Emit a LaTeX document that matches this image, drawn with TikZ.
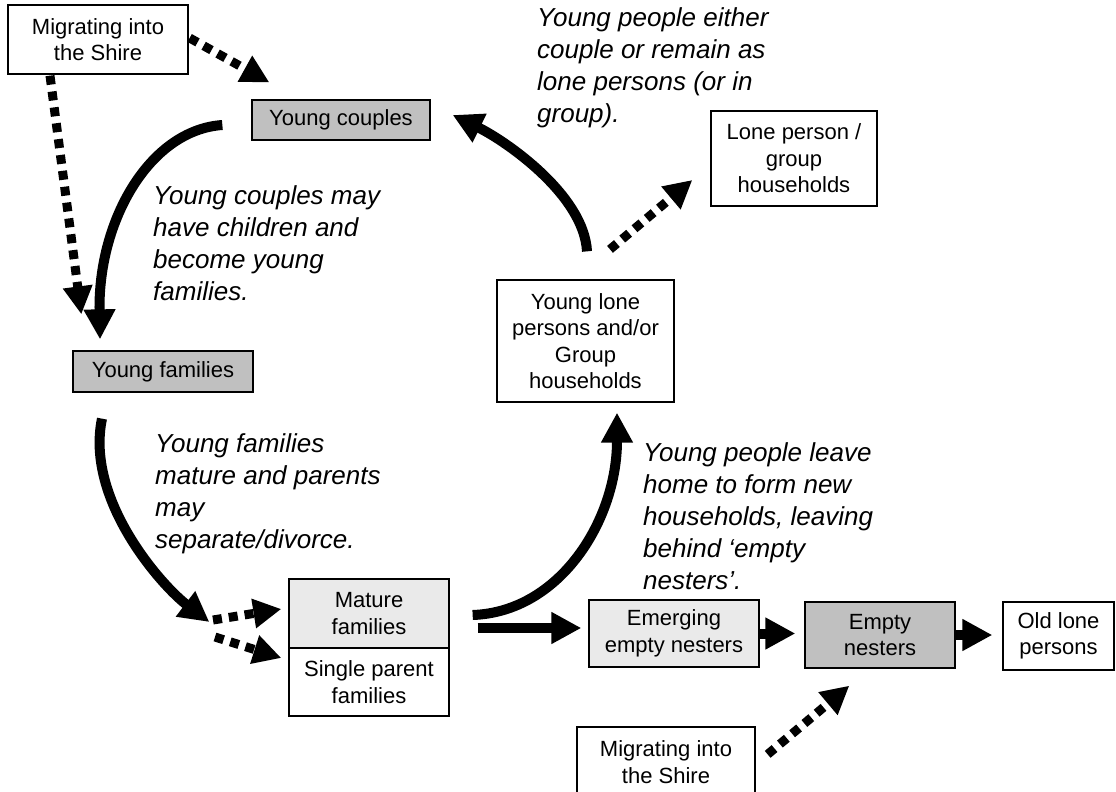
\documentclass[tikz,border=0pt]{standalone}
\usepackage{fontspec}
\setmainfont{Liberation Sans}
\usetikzlibrary{arrows.meta,calc}
\newcommand\boxfont{\fontsize{22}{26.5}\selectfont}
\newcommand\notefont{\fontsize{26}{32}\selectfont\itshape}
\definecolor{boxgray}{HTML}{C0C0C0}
\definecolor{lightgray}{HTML}{EAEAEA}
\tikzset{
  box/.style={draw=black, line width=1.3pt, align=center, font=\boxfont, inner sep=0pt},
  note/.style={align=left, font=\notefont, anchor=north west, inner sep=0pt},
  solidarrow/.style={line width=10pt, -{Triangle[length=30pt,width=30pt]}},
  dotarrow/.style={line width=9pt, dash pattern=on 9pt off 7pt, -{Triangle[length=28pt,width=28pt]}}
}
\begin{document}
\begin{tikzpicture}[x=1pt,y=-1pt]
\useasboundingbox (0,0) rectangle (1116,792);
\fill[white] (0,0) rectangle (1116,792);

% boxes
\node[box, minimum width=180pt, minimum height=69pt] (mig1) at (98,39.5) {Migrating into\\the Shire};
\node[box, fill=boxgray, minimum width=178pt, minimum height=40pt] (yc) at (341,120) {Young couples};
\node[box, fill=boxgray, minimum width=180pt, minimum height=41pt] (yf) at (163,371.5) {Young families};
\node[box, minimum width=166pt, minimum height=95pt] (lone) at (794,158.5) {Lone person /\\group\\households};
\node[box, minimum width=177pt, minimum height=122pt] (ylp) at (585.5,341) {Young lone\\persons and/or\\Group\\households};
\node[box, fill=lightgray, minimum width=160pt, minimum height=69pt] (mat) at (369,613.5) {Mature\\families};
\node[box, minimum width=160pt, minimum height=68pt] (sp) at (369,682) {Single parent\\families};
\node[box, fill=lightgray, minimum width=170pt, minimum height=67pt] (em) at (674,633.5) {Emerging\\empty nesters};
\node[box, fill=boxgray, minimum width=150pt, minimum height=66pt] (empty) at (880,635) {Empty\\nesters};
\node[box, minimum width=111pt, minimum height=68pt] (old) at (1058.5,636) {Old lone\\persons};
\node[box, minimum width=178pt, minimum height=70pt] (mig2) at (666,762) {Migrating into\\the Shire};

% notes
\node[note] (n1) at (153,185) {Young couples may\\have children and\\become young\\families.};
\node[note] (n2) at (155,433) {Young families\\mature and parents\\may\\separate/divorce.};
\node[note] (n3) at (537,7) {Young people either\\couple or remain as\\lone persons (or in\\group).};
\node[note] (n4) at (643,442) {Young people leave\\home to form new\\households, leaving\\behind ‘empty\\nesters’.};

% solid curved arrows
\draw[solidarrow] ($(yc.west)+(-29,5)$) .. controls (150,130) and (98,220) .. ($(yf.north)+(-63,-11)$);
\draw[solidarrow] ($(yf.south)+(-61,26)$) .. controls (85,500) and (162,586) .. ($(mat.west)+(-79,8.5)$);
\draw[solidarrow] ($(mat.east)+(23,1.5)$) .. controls (560,612) and (617,520) .. ($(ylp.south)+(31.5,10)$);
\draw[solidarrow] ($(ylp.north)+(1.5,-28)$) .. controls (584,195) and (506,141) .. ($(yc.east)+(22,-5)$);

% straight arrows
\draw[solidarrow] ($(mat.east)+(28,14.5)$) -- ($(em.west)+(-7,-5.5)$);
\draw[solidarrow] (em.east) -- ($(em.east -| empty.west)+(-9,0)$);
\draw[solidarrow] (empty.east) -- ($(empty.east -| old.west)+(-10,0)$);

% dotted arrows
\coordinate (split1) at (213,620);
\coordinate (split2) at (215,637);
\draw[dotarrow] ($(mig1.east)+(1,-1.5)$) -- ($(yc.north west)+(18,-17)$);
\draw[dotarrow] ($(mig1.south)+(-48,1)$) -- ($(yf.north west)+(9,-36)$);
\draw[dotarrow] (split1) -- ($(mat.west)+(-7,-4.5)$);
\draw[dotarrow] (split2) -- ($(sp.west)+(-7,-24)$);
\draw[dotarrow] ($(ylp.north)+(24.5,-30)$) -- ($(lone.west)+(-18,21.5)$);
\draw[dotarrow] ($(mig2.north east)+(12,28)$) -- ($(empty.south west)+(45,17)$);
\end{tikzpicture}
\end{document}
